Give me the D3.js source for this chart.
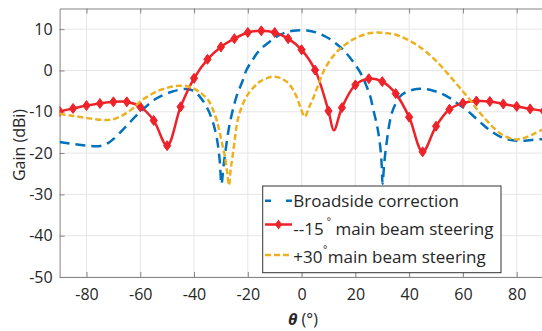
<!DOCTYPE html>
<html><head><meta charset="utf-8">
<script src="https://cdn.jsdelivr.net/npm/d3@7"></script>
<style>html,body{margin:0;padding:0;background:#fff;}svg{display:block;}</style>
</head><body>
<svg id="c" width="542" height="331"></svg>
<script>
// ---- data ----
const xTicks = [-80,-60,-40,-20,0,20,40,60,80];
const yTicks = [10,0,-10,-20,-30,-40,-50];
const seriesNames = ["Broadside correction","--15","+30"];

const blueTheta = [-90,-85,-80,-75,-72,-70,-66,-60,-54,-48,-43,-40,-38,-35,-33,-31.5,-30.5,-29.8,-29,-28.2,-26.7,-24.2,-22,-20.5,-18,-15.5,-12,-9,-6,-2,2,5.5,8,10.5,13,15.5,18,20.5,22.5,24.2,25.5,26.7,28,29.1,29.8,30.1,30.8,31.6,32.5,33.5,35,36.6,39,42.8,46,49,52,55.2,58,61.4,64.5,67.6,70.5,73.8,77,80,83,86.2,90];
const blueGain  = [-17.3,-17.8,-18.2,-18.3,-17.6,-16.6,-14,-10,-6.8,-5.1,-4.5,-5.0,-6.2,-9.2,-12.5,-16.5,-21.5,-27.5,-23,-19,-12.8,-6.3,-2.6,0.1,2.8,5.0,6.9,8.3,9.2,9.7,9.7,9.2,8.5,7.6,6.4,5.0,3.1,0.9,-1.3,-3.9,-6.2,-9.6,-13.2,-17.6,-23,-27.4,-22,-17.6,-13.5,-10.4,-8,-6.3,-5.2,-4.5,-4.5,-4.9,-5.6,-6.7,-8,-9.6,-11.4,-13.2,-14.7,-16,-16.7,-17,-17,-16.8,-16.6];

const redTheta = [-90,-85,-80,-75,-70,-65,-60,-55,-50,-45,-40,-35,-30,-25,-20,-15,-10,-5,0,5,10,12,15,20,25,30,35,40,45,50,55,60,65,70,75,80,85,90];
const redGain  = [-9.9,-9.2,-8.5,-8.0,-7.6,-7.6,-8.8,-12.1,-18.2,-8.8,-1.9,2.7,5.7,7.7,9.2,9.6,9.2,7.7,5.0,0.1,-9.8,-14.5,-9.0,-3.5,-2.0,-2.7,-5.6,-11.3,-19.7,-13.5,-9.4,-7.9,-7.4,-7.5,-8.1,-8.7,-9.3,-9.8];

const yellowTheta = [-90,-85,-79,-73,-70,-66.4,-63,-60,-57,-54,-51,-48,-45.3,-42.5,-40.3,-38.5,-36.6,-34.5,-32.9,-31.5,-30.4,-29.4,-28.5,-27.7,-27.0,-26.4,-25.7,-24.8,-24,-22.5,-20.5,-18,-15.5,-13,-10.6,-8,-5.6,-3.5,-1.9,-0.5,1.2,2.7,4.3,6.2,8.1,10.5,13,15.5,18.5,21.7,25,28.5,32,35.3,39,42.8,46.5,50.2,53.3,56.4,59.5,62.6,65,67.6,70.5,73.8,77,80,83,86.2,90];
const yellowGain  = [-10.5,-11,-11.6,-12,-11.8,-10.8,-9.3,-7.5,-6.2,-5.1,-4.4,-3.9,-3.7,-3.8,-4.3,-5,-5.9,-7.4,-9.6,-12.2,-15.2,-18.2,-20.9,-24.5,-27.8,-24,-20.9,-16.5,-12.8,-9.2,-6.3,-4.2,-2.7,-1.9,-1.5,-1.8,-2.7,-4.3,-6.3,-8.8,-11.2,-9.0,-6.7,-3.5,-0.3,2.4,4.4,5.9,7.3,8.3,9.0,9.2,9.0,8.6,7.6,6.2,4.4,2.2,0,-2.3,-4.7,-7.1,-9.2,-11.2,-13.3,-15.2,-16.3,-16.7,-16.3,-15.4,-14.2];

// ---- drawing ----
const BLUE="#0072BD", RED="#EE2229", YEL="#EDB120";
const svg = d3.select("#c");
const L=59.6, R=543.6, T=8.5, B=277;
const x = d3.scaleLinear().domain([-90,90]).range([L,R]);
const y = d3.scaleLinear().domain([-50,15]).range([B,T]);
const FONT = "'Open Sans', sans-serif";
const fmt = d => String(d);

svg.append("defs").append("clipPath").attr("id","clip")
  .append("rect").attr("x",L).attr("y",T).attr("width",R-L).attr("height",B-T);

// grid
const g = svg.append("g");
g.selectAll(".gx").data(xTicks).join("line")
  .attr("x1",d=>x(d)).attr("x2",d=>x(d)).attr("y1",T).attr("y2",B)
  .attr("stroke","#e6e6e6").attr("stroke-width",1);
g.selectAll(".gy").data(yTicks).join("line")
  .attr("x1",L).attr("x2",R).attr("y1",d=>y(d)).attr("y2",d=>y(d))
  .attr("stroke","#e6e6e6").attr("stroke-width",1);

// axes
const axCol="#858585";
const axB = svg.append("g").attr("transform",`translate(0,${B})`)
  .call(d3.axisBottom(x).tickValues(xTicks).tickFormat(fmt).tickSizeInner(-5).tickSizeOuter(0).tickPadding(12));
const axL = svg.append("g").attr("transform",`translate(${L},0)`)
  .call(d3.axisLeft(y).tickValues(yTicks).tickFormat(fmt).tickSizeInner(-5).tickSizeOuter(0).tickPadding(7));
const axT = svg.append("g").attr("transform",`translate(0,${T})`)
  .call(d3.axisTop(x).tickValues(xTicks).tickSizeInner(-5).tickSizeOuter(0).tickFormat(""));
[axB,axL,axT].forEach(a=>{
  a.select(".domain").attr("stroke",axCol).attr("stroke-width",1);
  a.selectAll(".tick line").attr("stroke",axCol);
  a.selectAll(".tick text").attr("fill","#262626").style("font-family",FONT).style("font-size","16px");
});

// curves
const plot = svg.append("g").attr("clip-path","url(#clip)");
const line = d3.line().x(d=>x(d[0])).y(d=>y(d[1])).curve(d3.curveCatmullRom.alpha(0.5));
const blue = blueTheta.map((t,i)=>[t,blueGain[i]]);
const red = redTheta.map((t,i)=>[t,redGain[i]]);
const yel = yellowTheta.map((t,i)=>[t,yellowGain[i]]);

plot.append("path").datum(blue).attr("d",line).attr("fill","none")
  .attr("stroke",BLUE).attr("stroke-width",2.5).attr("stroke-dasharray","10,6");
plot.append("path").datum(red).attr("d",line).attr("fill","none")
  .attr("stroke",RED).attr("stroke-width",2.5);
const diamond = "M0,-5L3.6,0L0,5L-3.6,0Z";
plot.selectAll(".mk").data(red.filter(d=>d[0]%5===0)).join("path")
  .attr("d",diamond).attr("transform",d=>`translate(${x(d[0])},${y(d[1])})`)
  .attr("fill",RED).attr("stroke",RED).attr("stroke-width",1);
plot.append("path").datum(yel).attr("d",line).attr("fill","none")
  .attr("stroke",YEL).attr("stroke-width",2.5).attr("stroke-dasharray","6,3");

// legend
const lg = svg.append("g");
lg.append("rect").attr("x",262.7).attr("y",186).attr("width",238.3).attr("height",86.7)
  .attr("fill","#fff").attr("stroke","#333").attr("stroke-width",1);
lg.append("line").attr("x1",265).attr("x2",292).attr("y1",200.7).attr("y2",200.7)
  .attr("stroke",BLUE).attr("stroke-width",2.5).attr("stroke-dasharray","6,15");
lg.append("line").attr("x1",265).attr("x2",292).attr("y1",224.5).attr("y2",224.5)
  .attr("stroke",RED).attr("stroke-width",2.5);
lg.append("path").attr("d",diamond).attr("transform","translate(278.5,224.5)").attr("fill",RED);
lg.append("line").attr("x1",265).attr("x2",292).attr("y1",255).attr("y2",255)
  .attr("stroke",YEL).attr("stroke-width",2.5).attr("stroke-dasharray","6,3");

lg.append("text").attr("x",293.3).attr("y",206.7).attr("fill","#262626")
  .style("font-family",FONT).style("font-size","17px").text(seriesNames[0]);
const t2 = lg.append("text").attr("x",293.3).attr("y",235).attr("fill","#262626")
  .style("font-family",FONT).style("font-size","17px");
t2.append("tspan").text(seriesNames[1]);
t2.append("tspan").attr("dx",3).attr("dy",-10).style("font-size","10px").text("°");
t2.append("tspan").attr("dy",10).text(" main beam steering");
const t3 = lg.append("text").attr("x",293.3).attr("y",263.3).attr("fill","#262626")
  .style("font-family",FONT).style("font-size","17px");
t3.append("tspan").text(seriesNames[2]);
t3.append("tspan").attr("dx",0.5).attr("dy",-10).style("font-size","10px").text("°");
t3.append("tspan").attr("dx",0.5).attr("dy",10).text("main beam steering");

// axis titles
svg.append("text").attr("transform","translate(25,145) rotate(-90)").attr("text-anchor","middle")
  .attr("fill","#262626").style("font-family",FONT).style("font-size","16px").text("Gain (dBi)");
const xt = svg.append("text").attr("x",303).attr("y",325).attr("text-anchor","middle")
  .attr("fill","#262626").style("font-family",FONT).style("font-size","16px");
xt.append("tspan").style("font-weight","bold").style("font-style","italic").text("θ");
xt.append("tspan").text(" (°)");
</script>
</body></html>
